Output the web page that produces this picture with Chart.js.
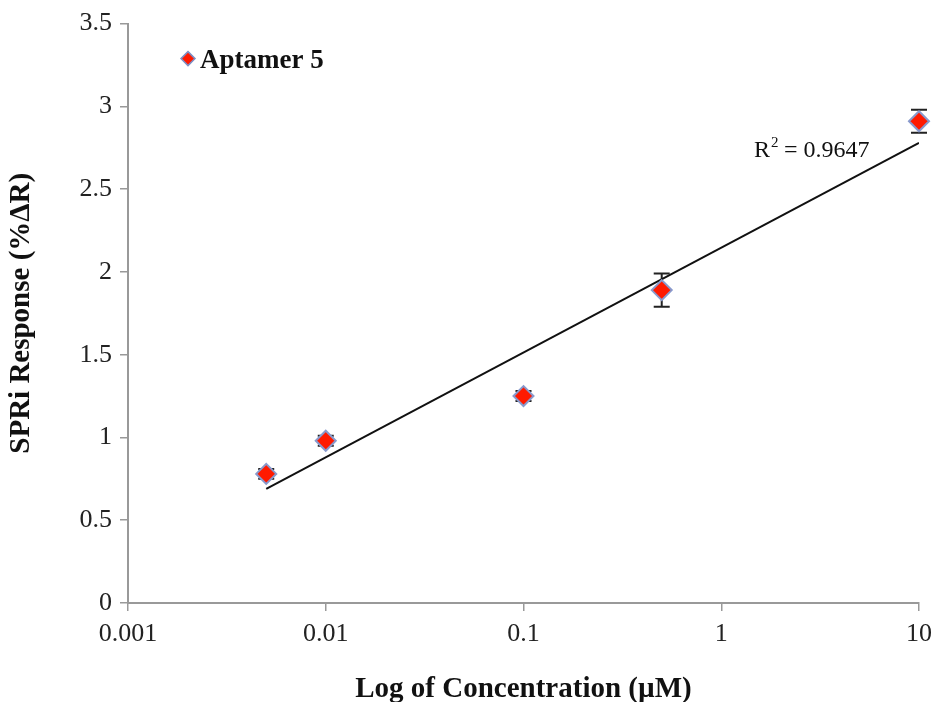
<!DOCTYPE html>
<html>
<head>
<meta charset="utf-8">
<script src="https://cdn.jsdelivr.net/npm/chart.js@4.4.0/dist/chart.umd.min.js"></script>
<style>
  html, body { margin: 0; padding: 0; background: #fff; }
  #wrap { width: 937px; height: 702px; }
</style>
</head>
<body>
<div id="wrap"><canvas id="myChart" width="937" height="702"></canvas></div>
<script>
// datos
var concentrations = [0.005, 0.01, 0.1, 0.5, 10];
var responses = [0.78, 0.98, 1.25, 1.89, 2.91];
var errors = [0.03, 0.03, 0.03, 0.10, 0.07];
var trendX = [0.005, 10];
var trendY = [0.69, 2.78];
var xTicks = [0.001, 0.01, 0.1, 1, 10];
var yTicks = [0, 0.5, 1, 1.5, 2, 2.5, 3, 3.5];
var seriesName = 'Aptamer 5';
var r2Text = '0.9647';

var serif = '"Liberation Serif", "DejaVu Serif", serif';

var points = concentrations.map(function (c, i) { return { x: c, y: responses[i] }; });
var trend = trendX.map(function (c, i) { return { x: c, y: trendY[i] }; });

// barras de error (detras de los puntos), leyenda y etiqueta R2
var extras = {
    id: 'extras',
    beforeDatasetsDraw: function (chart) {
        var ctx = chart.ctx;
        var xs = chart.scales.x, ys = chart.scales.y;
        ctx.save();
        ctx.strokeStyle = '#222';
        ctx.lineWidth = 2;
        concentrations.forEach(function (c, i) {
            var px = xs.getPixelForValue(c);
            var top = ys.getPixelForValue(responses[i] + errors[i]);
            var bot = ys.getPixelForValue(responses[i] - errors[i]);
            ctx.beginPath();
            ctx.moveTo(px, top); ctx.lineTo(px, bot);
            ctx.moveTo(px - 8, top); ctx.lineTo(px + 8, top);
            ctx.moveTo(px - 8, bot); ctx.lineTo(px + 8, bot);
            ctx.stroke();
        });
        ctx.restore();
    },
    afterDraw: function (chart) {
        var ctx = chart.ctx;
        var area = chart.chartArea;
        ctx.save();
        // leyenda
        var lx = area.left + 60, ly = area.top + 35;
        ctx.beginPath();
        ctx.moveTo(lx, ly - 7); ctx.lineTo(lx + 7, ly); ctx.lineTo(lx, ly + 7); ctx.lineTo(lx - 7, ly);
        ctx.closePath();
        ctx.fillStyle = '#ff1a00';
        ctx.fill();
        ctx.strokeStyle = '#7d8fc4';
        ctx.lineWidth = 1.5;
        ctx.stroke();
        ctx.fillStyle = '#111';
        ctx.font = 'bold 27px ' + serif;
        ctx.textBaseline = 'middle';
        ctx.textAlign = 'left';
        ctx.fillText(seriesName, lx + 12, ly + 2);
        // R2
        ctx.font = '24px ' + serif;
        ctx.textBaseline = 'alphabetic';
        var rx = 754, ry = 157;
        ctx.fillText('R', rx, ry);
        var w = ctx.measureText('R').width;
        ctx.font = '15px ' + serif;
        ctx.fillText('2', rx + w + 1, ry - 10);
        ctx.font = '24px ' + serif;
        ctx.fillText(' = ' + r2Text, rx + w + 8, ry);
        ctx.restore();
    }
};

var ctx = document.getElementById('myChart').getContext('2d');
var myChart = new Chart(ctx, {
    type: 'scatter',
    data: {
        datasets: [{
            label: 'Tendencia',
            data: trend,
            type: 'line',
            showLine: true,
            borderColor: '#111',
            borderWidth: 2,
            pointRadius: 0,
            fill: false,
            order: 2
        }, {
            label: seriesName,
            data: points,
            pointStyle: 'rectRot',
            pointRadius: 10,
            pointHoverRadius: 10,
            backgroundColor: '#ff1a00',
            borderColor: '#8899cc',
            borderWidth: 2,
            clip: false,
            order: 1
        }]
    },
    plugins: [extras],
    options: {
        responsive: false,
        animation: false,
        layout: { padding: { top: 20, right: 5, left: 0, bottom: 0 } },
        plugins: {
            legend: { display: false },
            tooltip: { enabled: false }
        },
        scales: {
            x: {
                type: 'logarithmic',
                min: 0.001,
                max: 10,
                afterBuildTicks: function (scale) {
                    scale.ticks = xTicks.map(function (v) { return { value: v }; });
                },
                afterFit: function (scale) { scale.height = 99; scale.paddingRight = 18; },
                ticks: {
                    autoSkip: false,
                    maxRotation: 0,
                    padding: 8,
                    color: '#222',
                    font: { family: serif, size: 26 },
                    callback: function (v) { return String(v); }
                },
                grid: { drawOnChartArea: false, tickLength: 8, color: '#999', lineWidth: 1.5 },
                border: { color: '#999', width: 2 },
                title: {
                    display: true,
                    text: 'Log of Concentration (µM)',
                    color: '#111',
                    font: { family: serif, size: 29, weight: 'bold' },
                    padding: { top: 4, bottom: -5 }
                }
            },
            y: {
                min: 0,
                max: 3.5,
                afterBuildTicks: function (scale) {
                    scale.ticks = yTicks.map(function (v) { return { value: v }; });
                },
                afterFit: function (scale) { scale.width = 128; },
                ticks: {
                    padding: 8,
                    color: '#222',
                    font: { family: serif, size: 26 },
                    callback: function (v) { return String(v); }
                },
                grid: { drawOnChartArea: false, tickLength: 8, color: '#999', lineWidth: 1.5 },
                border: { color: '#999', width: 2 },
                title: {
                    display: true,
                    text: 'SPRi Response (%ΔR)',
                    color: '#111',
                    font: { family: serif, size: 29, weight: 'bold' },
                    padding: { bottom: 8 }
                }
            }
        }
    }
});
</script>
</body>
</html>
